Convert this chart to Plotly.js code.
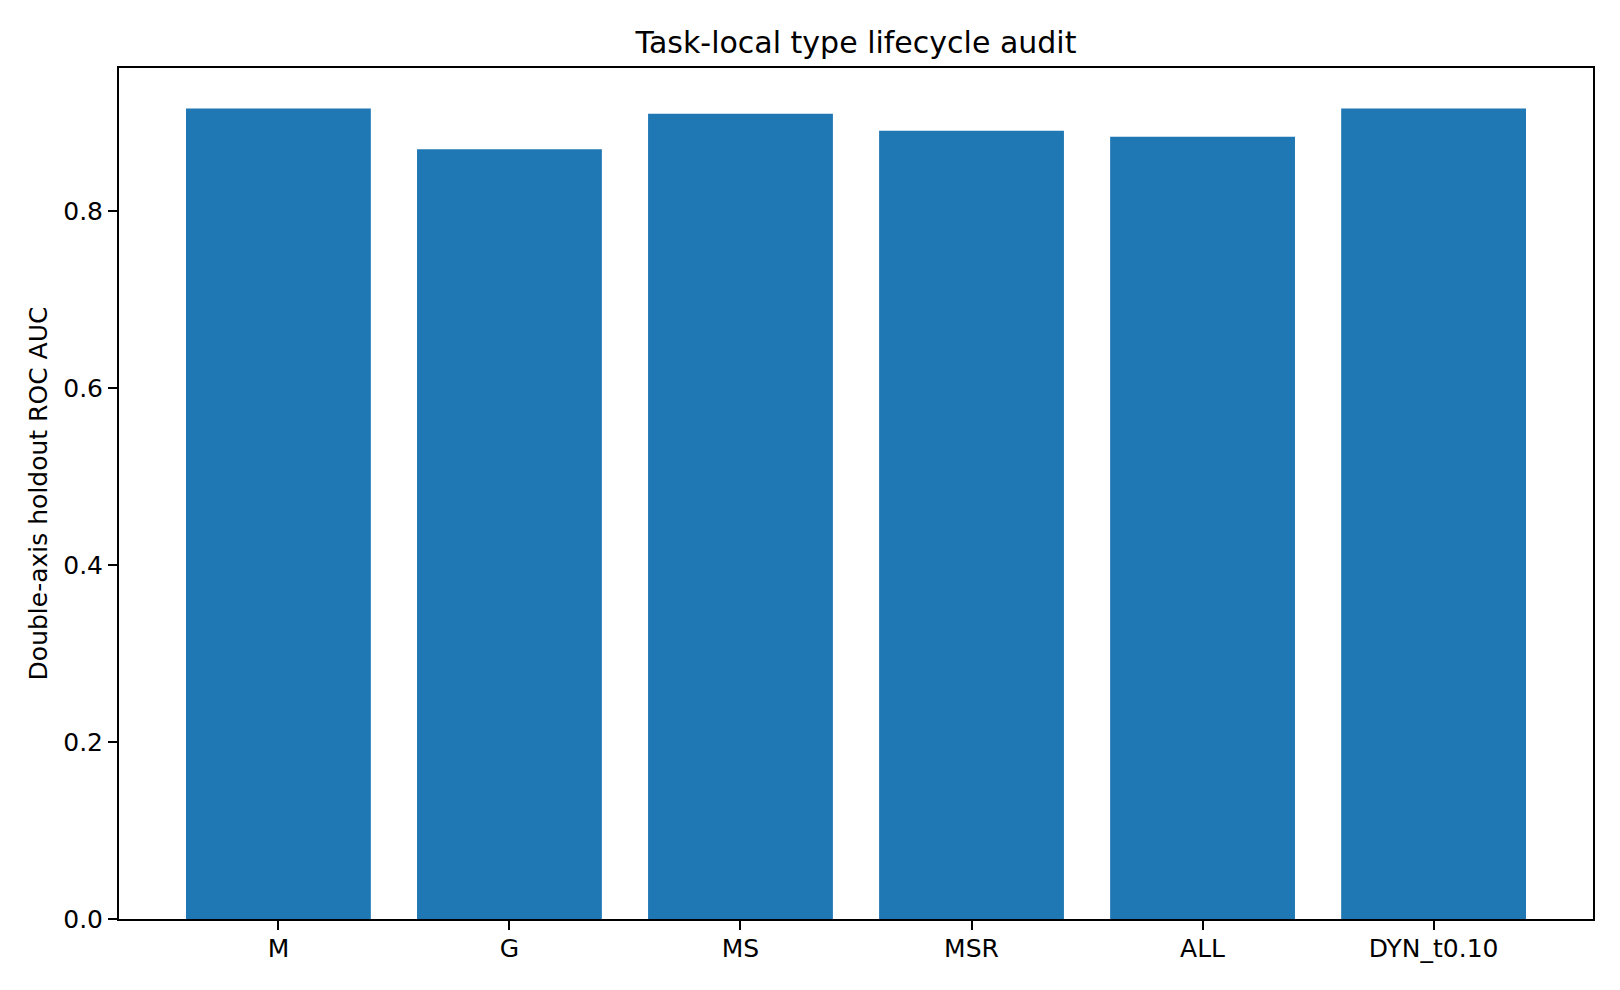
<!DOCTYPE html>
<html>
<head>
<meta charset="utf-8">
<script src="https://cdn.plot.ly/plotly-3.0.1.min.js"></script>
<style>
    html, body { margin: 0; padding: 0; background: #ffffff; }
    #chart { width: 1620px; height: 990px; }
</style>
</head>
<body>
<div id="chart"></div>
<script>
/**********************************************************************************************************************************************************/
// DATOS DE LA GRAFICA
const categorias = ['M', 'G', 'MS', 'MSR', 'ALL', 'DYN_t0.10'];
const valoresAuc = [0.916, 0.870, 0.910, 0.891, 0.884, 0.916];
const ticksY = [0.0, 0.2, 0.4, 0.6, 0.8];

/**********************************************************************************************************************************************************/
// FUNCION PARA DIBUJAR LA GRAFICA DE BARRAS
function renderizarGrafica(containerId) {
    const chartDiv = document.getElementById(containerId);
    if (!chartDiv) return;

    const fuente = "'DejaVu Sans', 'Liberation Sans', sans-serif";

    const trace = {
        x: categorias.map((_, i) => i),
        y: valoresAuc,
        type: 'bar',
        width: 0.8,
        marker: { color: '#1f77b4', line: { width: 0 } },
        hoverinfo: 'x+y'
    };

    const layout = {
        width: 1620,
        height: 990,
        paper_bgcolor: '#ffffff',
        plot_bgcolor: '#ffffff',
        font: { family: fuente, color: '#000000', size: 25 },
        margin: { t: 68, r: 27, b: 71, l: 119 },
        showlegend: false,

        title: {
            text: 'Task-local type lifecycle audit',
            font: { size: 30, color: '#000000' },
            x: 0.5,
            xref: 'paper',
            xanchor: 'center',
            y: 1,
            yref: 'paper',
            yanchor: 'bottom',
            pad: { b: 15 }
        },

        xaxis: {
            range: [-0.69, 5.69],
            tickmode: 'array',
            tickvals: categorias.map((_, i) => i),
            ticktext: categorias,
            showgrid: false,
            zeroline: false,
            showline: true,
            linecolor: '#000000',
            linewidth: 2,
            mirror: true,
            ticks: 'outside',
            ticklen: 9,
            tickwidth: 2,
            tickcolor: '#000000',
            ticklabelstandoff: -3,
            tickfont: { size: 25 }
        },
        yaxis: {
            title: { text: 'Double-axis holdout ROC AUC', font: { size: 25 }, standoff: 8 },
            range: [0, 0.9618],
            tickmode: 'array',
            tickvals: ticksY,
            ticktext: ticksY.map(v => v.toFixed(1)),
            showgrid: false,
            zeroline: false,
            showline: true,
            linecolor: '#000000',
            linewidth: 2,
            mirror: true,
            ticks: 'outside',
            ticklen: 9,
            tickwidth: 2,
            tickcolor: '#000000',
            tickfont: { size: 25 }
        }
    };

    Plotly.newPlot(chartDiv, [trace], layout, {
        displaylogo: false,
        displayModeBar: false
    });
}

document.addEventListener('DOMContentLoaded', () => renderizarGrafica('chart'));
</script>
</body>
</html>
